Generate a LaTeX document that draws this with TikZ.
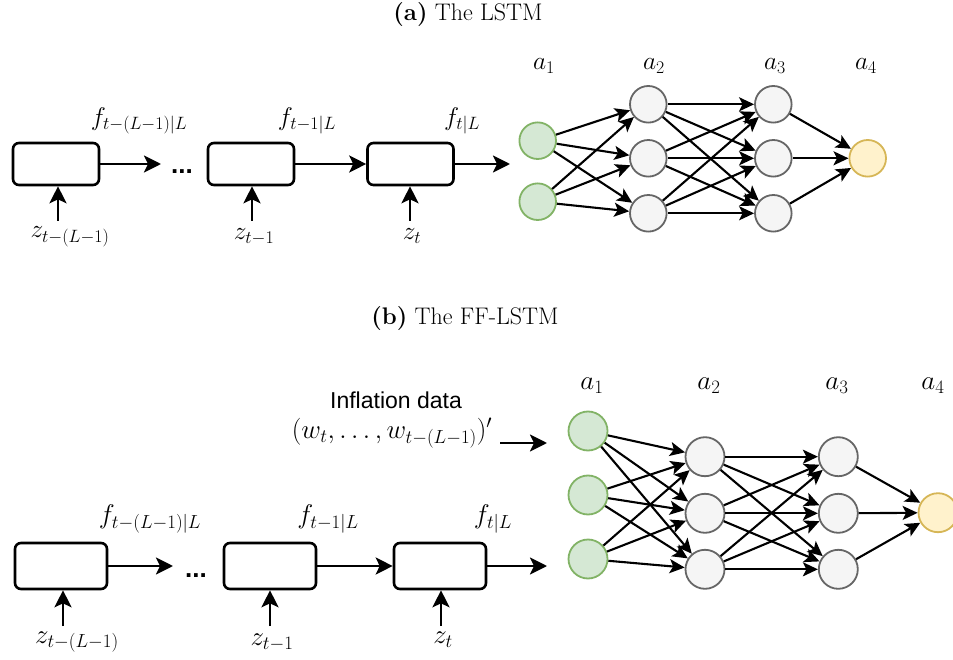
\RequirePackage{fix-cm}
\documentclass[tikz,border=0pt]{standalone}
\usepackage{fontspec}
\newfontfamily\sansf{Liberation Sans}
\usetikzlibrary{arrows.meta}
\definecolor{gdraw}{HTML}{82B366}
\definecolor{gfill}{HTML}{D5E8D4}
\definecolor{hdraw}{HTML}{666666}
\definecolor{hfill}{HTML}{F5F5F5}
\definecolor{ydraw}{HTML}{D6B656}
\definecolor{yfill}{HTML}{FFF2CC}
\tikzset{
  captext/.style={font=\fontsize{24}{28}\selectfont, inner sep=0pt},
  mla/.style={font=\fontsize{25.5}{30}\selectfont, inner sep=0pt},
  mlb/.style={font=\fontsize{27}{32}\selectfont, inner sep=0pt},
  dotsn/.style={font=\sansf\bfseries\fontsize{26}{30}\selectfont, inner sep=0pt},
  cellbox/.style={draw, line width=2.6pt, rounded corners=6pt, inner sep=0pt},
  arr/.style={line width=2.6pt, -{Stealth[length=17pt,width=17pt,inset=4pt]}},
  narr/.style={line width=2.1pt, -{Stealth[length=15pt,width=14pt,inset=3.5pt]}},
  inp/.style={circle, draw=gdraw, fill=gfill, line width=1.8pt, inner sep=0pt},
  hid/.style={circle, draw=hdraw, fill=hfill, line width=1.8pt, inner sep=0pt},
  outn/.style={circle, draw=ydraw, fill=yfill, line width=1.8pt, inner sep=0pt}
}
\begin{document}
\begin{tikzpicture}[x=1pt,y=-1pt]
\useasboundingbox (0,0) rectangle (953,660);

% ================= (a) =================
\node[captext] (capa) at (468,15) {\textbf{(a)} The LSTM};

\node[cellbox, minimum width=86pt, minimum height=42pt] (A1) at (56,164) {};
\node[cellbox, minimum width=86pt, minimum height=42pt] (A2) at (251,164) {};
\node[cellbox, minimum width=86pt, minimum height=42pt] (A3) at (410.5,164) {};
\coordinate (Aend1) at (161,164);
\coordinate (Aend3) at (510,164);
\node[dotsn] (Adots) at (182,172) {...};
\draw[arr] (A1.east) -- (Aend1);
\draw[arr] (A2.east) -- (A3.west);
\draw[arr] (A3.east) -- (Aend3);

\coordinate (Az1) at (58,221);
\coordinate (Az2) at (252,221);
\coordinate (Az3) at (410,221);
\draw[arr] (Az1) -- (Az1 |- A1.south);
\draw[arr] (Az2) -- (Az2 |- A2.south);
\draw[arr] (Az3) -- (Az3 |- A3.south);
\node[mla] (Azl1) at (70,237) {$z_{t-(L-1)}$};
\node[mla] (Azl2) at (254,237) {$z_{t-1}$};
\node[mla] (Azl3) at (412,236) {$z_t$};
\node[mla] (Afl1) at (139,121) {$f_{t-(L-1)|L}$};
\node[mla] (Afl2) at (307,121) {$f_{t-1|L}$};
\node[mla] (Afl3) at (462,121) {$f_{t|L}$};

% NN (a)
\node[inp, minimum size=36.6pt] (aI1) at (537.7,140.7) {};
\node[inp, minimum size=36.6pt] (aI2) at (537.7,201.7) {};
\foreach \j/\y in {1/104.3,2/158.3,3/213.3}{
  \node[hid, minimum size=36.6pt] (aH\j) at (648.3,\y) {};
  \node[hid, minimum size=36.6pt] (aG\j) at (773.3,\y) {};
}
\node[outn, minimum size=36.6pt] (aO) at (867.7,158.3) {};
\foreach \i in {1,2}{\foreach \j in {1,2,3}{\draw[narr] (aI\i) -- (aH\j);}}
\foreach \i in {1,2,3}{\foreach \j in {1,2,3}{\draw[narr] (aH\i) -- (aG\j);}}
\foreach \i in {1,2,3}{\draw[narr] (aG\i) -- (aO);}
\node[mla] (aa1) at (544,66) {$a_1$};
\node[mla] (aa2) at (654,66) {$a_2$};
\node[mla] (aa3) at (775,66) {$a_3$};
\node[mla] (aa4) at (866,66) {$a_4$};

% ================= (b) =================
\node[captext] (capb) at (465,319) {\textbf{(b)} The FF-LSTM};

\node[cellbox, minimum width=92pt, minimum height=46pt] (B1) at (61,566) {};
\node[cellbox, minimum width=92pt, minimum height=46pt] (B2) at (270,566) {};
\node[cellbox, minimum width=92pt, minimum height=46pt] (B3) at (440,566) {};
\coordinate (Bend1) at (173,566);
\coordinate (Bend3) at (547,566);
\node[dotsn] (Bdots) at (196,576) {...};
\draw[arr] (B1.east) -- (Bend1);
\draw[arr] (B2.east) -- (B3.west);
\draw[arr] (B3.east) -- (Bend3);

\coordinate (Bz1) at (63,626);
\coordinate (Bz2) at (270,626);
\coordinate (Bz3) at (441,626);
\draw[arr] (Bz1) -- (Bz1 |- B1.south);
\draw[arr] (Bz2) -- (Bz2 |- B2.south);
\draw[arr] (Bz3) -- (Bz3 |- B3.south);
\node[mlb] (Bzl1) at (77,642) {$z_{t-(L-1)}$};
\node[mlb] (Bzl2) at (272,642) {$z_{t-1}$};
\node[mlb] (Bzl3) at (443,640) {$z_t$};
\node[mlb] (Bfl1) at (150,519) {$f_{t-(L-1)|L}$};
\node[mlb] (Bfl2) at (328,519) {$f_{t-1|L}$};
\node[mlb] (Bfl3) at (493,519) {$f_{t|L}$};

\node[font=\sansf\fontsize{23}{27}\selectfont, inner sep=0pt] (infl) at (396,400) {Inflation data};
\node[mlb] (wvec) at (392,433) {$(w_t,\ldots,w_{t-(L-1)})'$};
\coordinate (wst) at (500,443);
\coordinate (wen) at (547,443);
\draw[arr] (wst) -- (wen);

% NN (b)
\foreach \j/\y in {1/431,2/495,3/559}{
  \node[inp, minimum size=39pt] (bI\j) at (588,\y) {};
}
\foreach \j/\y in {1/456.7,2/513.3,3/569.3}{
  \node[hid, minimum size=39pt] (bH\j) at (705,\y) {};
  \node[hid, minimum size=39pt] (bG\j) at (838.3,\y) {};
}
\node[outn, minimum size=39pt] (bO) at (938,512.7) {};
\foreach \i in {1,2,3}{\foreach \j in {1,2,3}{\draw[narr] (bI\i) -- (bH\j);}}
\foreach \i in {1,2,3}{\foreach \j in {1,2,3}{\draw[narr] (bH\i) -- (bG\j);}}
\foreach \i in {1,2,3}{\draw[narr] (bG\i) -- (bO);}
\node[mlb] (ba1) at (592,386) {$a_1$};
\node[mlb] (ba2) at (709,386) {$a_2$};
\node[mlb] (ba3) at (837,386) {$a_3$};
\node[mlb] (ba4) at (933,386) {$a_4$};
\end{tikzpicture}
\end{document}
